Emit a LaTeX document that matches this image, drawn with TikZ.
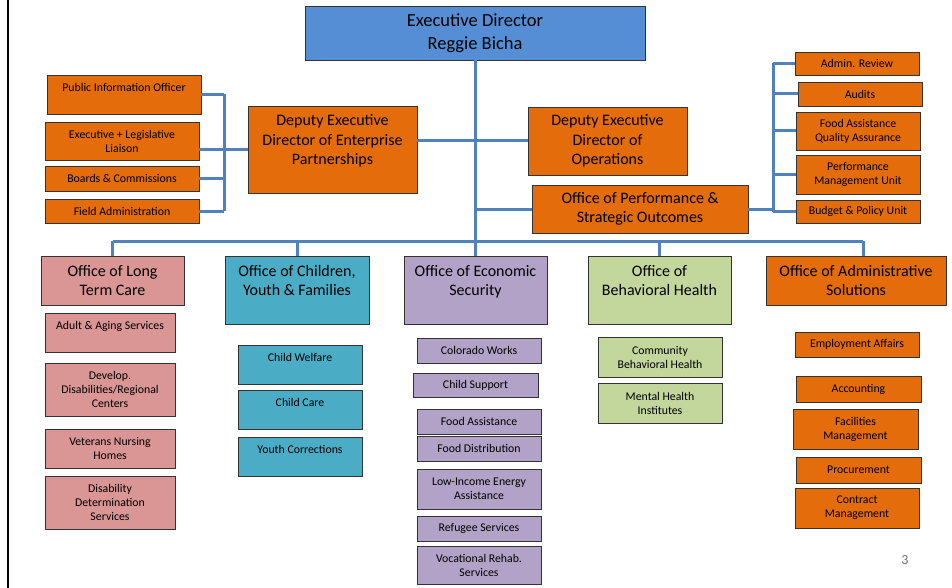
\documentclass[tikz,border=0pt]{standalone}
\usepackage{fontspec}
\setmainfont{Carlito}
\definecolor{execblue}{HTML}{558ED5}
\definecolor{unitorange}{HTML}{E46C0A}
\definecolor{ltcpink}{HTML}{D99694}
\definecolor{cyfteal}{HTML}{4BACC6}
\definecolor{econpurple}{HTML}{B3A2C7}
\definecolor{bhgreen}{HTML}{C3D69B}
\definecolor{linkblue}{HTML}{4F81BD}
\newcommand{\padline}{\\\mbox{}}

\begin{document}
\begin{tikzpicture}[x=1pt,y=-1pt,
    box/.style={draw=black!80, line width=0.8pt, align=center, inner sep=0pt},
    big/.style={box, font=\fontsize{16}{19.5}\selectfont},
    small/.style={box, font=\fontsize{11.8}{14}\selectfont},
    link/.style={draw=linkblue, line width=3pt}]
  \useasboundingbox (0,0) rectangle (952,588);
  \draw[line width=2.5pt] (8,0) -- (8,588);

  \node[box, fill=execblue, minimum width=340, minimum height=54,
        font=\fontsize{18.5}{23}\selectfont] (exec) at (475,33) {Executive Director\\Reggie Bicha};

  \node[big, fill=unitorange, minimum width=169, minimum height=87] (depent) at (332.5,149.5)
    {Deputy Executive\\Director of Enterprise\\Partnerships\padline};
  \node[big, fill=unitorange, minimum width=159, minimum height=68] (depops) at (607.5,141)
    {Deputy Executive\\Director of\\Operations};
  \node[big, fill=unitorange, minimum width=216, minimum height=48] (perf) at (640,209)
    {Office of Performance \&\\Strategic Outcomes};

  \node[small, fill=unitorange, minimum width=154, minimum height=39] (pio) at (124,94.5) {Public Information Officer\padline};
  \node[small, fill=unitorange, minimum width=154, minimum height=38] (liaison) at (122,141) {Executive + Legislative\\Liaison};
  \node[small, fill=unitorange, minimum width=154, minimum height=25] (boards) at (122,178.5) {Boards \& Commissions};
  \node[small, fill=unitorange, minimum width=154, minimum height=24] (field) at (122,211) {Field Administration};

  \node[small, fill=unitorange, minimum width=124, minimum height=23] (review) at (857,63.5) {Admin. Review};
  \node[small, fill=unitorange, minimum width=124, minimum height=24] (audits) at (860,94) {Audits};
  \node[small, fill=unitorange, minimum width=124, minimum height=38] (faqa) at (858,131) {Food Assistance\\Quality Assurance};
  \node[small, fill=unitorange, minimum width=124, minimum height=39] (pmu) at (858,174.5) {Performance\\Management Unit};
  \node[small, fill=unitorange, minimum width=124, minimum height=23] (budget) at (858,211.5) {Budget \& Policy Unit};

  \node[big, fill=ltcpink, minimum width=143, minimum height=49] (ltc) at (112.5,280.5) {Office of Long\\Term Care};
  \node[big, fill=cyfteal, minimum width=144, minimum height=68] (cyf) at (297,290) {Office of Children,\\Youth \& Families\padline};
  \node[big, fill=econpurple, minimum width=143, minimum height=68] (econ) at (475.5,290) {Office of Economic\\Security\padline};
  \node[big, fill=bhgreen, minimum width=143, minimum height=68] (bh) at (659.5,290) {Office of\\Behavioral Health\padline};
  \node[big, fill=unitorange, minimum width=180, minimum height=49] (admin) at (856,280.5) {Office of Administrative\\Solutions};

  \node[small, fill=ltcpink, minimum width=130, minimum height=39] (aging) at (110,332.5) {Adult \& Aging Services\padline};
  \node[small, fill=ltcpink, minimum width=130, minimum height=53] (develop) at (110,389.5) {Develop.\\Disabilities/Regional\\Centers};
  \node[small, fill=ltcpink, minimum width=130, minimum height=39] (veterans) at (110,448.5) {Veterans Nursing\\Homes};
  \node[small, fill=ltcpink, minimum width=130, minimum height=53] (ddds) at (110,502.5) {Disability\\Determination\\Services};

  \node[small, fill=cyfteal, minimum width=124, minimum height=39] (welfare) at (300,364.5) {Child Welfare\padline};
  \node[small, fill=cyfteal, minimum width=124, minimum height=39] (childcare) at (300,409.5) {Child Care\padline};
  \node[small, fill=cyfteal, minimum width=124, minimum height=39] (youthcorr) at (300,456.5) {Youth Corrections\padline};

  \node[small, fill=econpurple, minimum width=124, minimum height=25] (cowork) at (479,350.5) {Colorado Works};
  \node[small, fill=econpurple, minimum width=125, minimum height=24] (childsup) at (475.5,385) {Child Support};
  \node[small, fill=econpurple, minimum width=124, minimum height=25] (foodasst) at (479,421.5) {Food Assistance};
  \node[small, fill=econpurple, minimum width=124, minimum height=25] (fooddist) at (479,448.5) {Food Distribution};
  \node[small, fill=econpurple, minimum width=124, minimum height=40] (leap) at (479,489) {Low-Income Energy\\Assistance};
  \node[small, fill=econpurple, minimum width=124, minimum height=25] (refugee) at (479,528.5) {Refugee Services};
  \node[small, fill=econpurple, minimum width=124, minimum height=38] (vocrehab) at (479,565) {Vocational Rehab.\\Services};

  \node[small, fill=bhgreen, minimum width=124, minimum height=40] (cbh) at (660,357) {Community\\Behavioral Health};
  \node[small, fill=bhgreen, minimum width=124, minimum height=40] (mhi) at (660,403) {Mental Health\\Institutes};

  \node[small, fill=unitorange, minimum width=124, minimum height=25] (empaff) at (857,344.5) {Employment Affairs};
  \node[small, fill=unitorange, minimum width=125, minimum height=26] (accounting) at (858.5,389) {Accounting};
  \node[small, fill=unitorange, minimum width=125, minimum height=40] (facilities) at (855.5,429) {Facilities\\Management};
  \node[small, fill=unitorange, minimum width=125, minimum height=26] (procure) at (858.5,470) {Procurement};
  \node[small, fill=unitorange, minimum width=124, minimum height=40] (contract) at (857,508) {Contract\\Management};

  \node[text=black!55, font=\fontsize{14}{16}\selectfont] (pagenum) at (905,560) {3};

  \coordinate (bus) at (475,241);
  \coordinate (lb) at (224,150);
  \coordinate (rb) at (773,209);
  \coordinate (admintop) at ([xshift=7pt]admin.north);

  \draw[link] (exec.south) -- (exec.south |- bus);
  \draw[link] (bus -| ltc.north) -- (bus -| admintop);
  \foreach \o in {ltc,cyf,econ,bh}
    \draw[link] (bus -| \o.north) -- (\o.north);
  \draw[link] (bus -| admintop) -- (admintop);

  \draw[link] (depent.east |- depops.west) -- (depops.west);
  \draw[link] (exec.south |- perf.west) -- (perf.west);

  \draw[link] (lb -| liaison.east) -- (lb -| depent.west);
  \draw[link] (lb |- pio.east) -- (lb |- field.east);
  \foreach \u in {pio,boards,field}
    \draw[link] (\u.east) -- (\u.east -| lb);

  \draw[link] (perf.east) -- (rb);
  \draw[link] (rb |- review.west) -- (rb |- budget.west);
  \foreach \u in {review,audits,faqa,pmu,budget}
    \draw[link] (rb |- \u.west) -- (\u.west);
\end{tikzpicture}
\end{document}
